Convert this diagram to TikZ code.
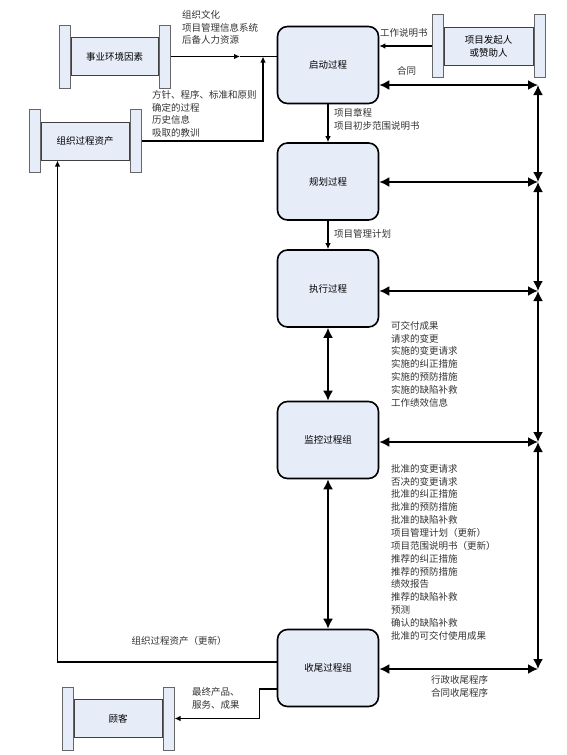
\documentclass[tikz,border=0pt]{standalone}
\usepackage{fontspec}
\setmainfont{Noto Sans CJK SC}
\usepackage{xcolor}
\usetikzlibrary{arrows.meta,calc}
\definecolor{boxfill}{HTML}{E6ECF8}
\tikzset{
	process/.style={draw, line width=1.6pt, rounded corners=10pt, fill=boxfill,
			minimum width=101pt, minimum height=77pt, font=\fontsize{9.5}{12}\selectfont},
	scrollmid/.style={draw=black!75, line width=1pt, fill=boxfill, minimum height=38pt,
			font=\fontsize{9.5}{13}\selectfont, align=center},
	scrollbar/.style={draw=black!60, line width=1pt, fill=boxfill, minimum width=11pt,
			minimum height=63pt, inner sep=0pt},
	note/.style={inner sep=0pt, align=left, anchor=north west, text=black!80,
			font=\fontsize{9.5}{12.85}\selectfont},
	flow/.style={line width=1.4pt, -{Latex[length=6pt,width=5.5pt]}},
	link/.style={line width=1.8pt, {Latex[length=10pt,width=10pt]}-{Latex[length=10pt,width=10pt]}}
}
\newcommand{\scrollbox}[4]{%
	\node[scrollmid, minimum width=#3] (#1) at (#2) {#4};
	\node[scrollbar, anchor=east] (#1-l) at (#1.west) {};
	\node[scrollbar, anchor=west] (#1-r) at (#1.east) {};
}

\begin{document}
\begin{tikzpicture}[x=1pt,y=-1pt]
	\useasboundingbox (0,0) rectangle (567,755);
	\node[process] (init) at (328,65) {启动过程};
	\node[process] (plan) at (328,181.5) {规划过程};
	\node[process] (exec) at (328,288.5) {执行过程};
	\node[process] (monit) at (328,440) {监控过程组};
	\node[process] (close) at (328,668) {收尾过程组};
	\scrollbox{env}{114.5,56.5}{87pt}{事业环境因素}
	\scrollbox{opa}{85,141}{88pt}{组织过程资产}
	\scrollbox{spon}{488.5,46}{89pt}{项目发起人\\或赞助人}
	\scrollbox{cust}{118,718.5}{88pt}{顾客}
	\coordinate (r1) at (538,85);
	\coordinate (r2) at (538,182);
	\coordinate (r3) at (538,291);
	\coordinate (r4) at (538,442);
	\coordinate (r5) at (538,669);
	\coordinate (envhead) at (240,56.5);
	\coordinate (join) at (263,56.5);
	\draw[flow] (env-r) -- (envhead);
	\draw[line width=1.4pt] (envhead) -- (init.west |- join);
	\draw[flow] (opa-r) -| (join);
	\draw[flow] (spon-l) -- (init.east |- spon-l);
	\draw[flow] (init) -- (plan);
	\draw[flow] (plan) -- (exec);
	\draw[link] (exec) -- (monit);
	\draw[link] (monit) -- (close);
	\foreach \p/\r in {init/r1, plan/r2, exec/r3, monit/r4, close/r5}
		\draw[link] (\p.east |- \r) -- (\r);
	\foreach \a/\b in {r1/r2, r2/r3, r3/r4, r4/r5}
		\draw[link] (\a) -- (\b);
	\draw[flow] ($(close.west)+(0,-6)$) -| ($(opa.south west)+(17,0)$);
	\draw[flow] ($(close.west)+(0,21)$) -- ++(-17,0) |- (cust-r);
	\node[note] (ctx) at (182,10) {组织文化\\项目管理信息系统\\后备人力资源};
	\node[note] (assets) at (152,90) {方针、程序、标准和原则\\确定的过程\\历史信息\\吸取的教训};
	\node[note] (sow) at (380,28) {工作说明书};
	\node[note] (contract) at (397,66) {合同};
	\node[note] (charter) at (334,108) {项目章程\\项目初步范围说明书};
	\node[note] (pmp) at (334,229) {项目管理计划};
	\node[note] (execout) at (391,321) {可交付成果\\请求的变更\\实施的变更请求\\实施的纠正措施\\实施的预防措施\\实施的缺陷补救\\工作绩效信息};
	\node[note] (monout) at (391,464) {批准的变更请求\\否决的变更请求\\批准的纠正措施\\批准的预防措施\\批准的缺陷补救\\项目管理计划（更新）\\项目范围说明书（更新）\\推荐的纠正措施\\推荐的预防措施\\绩效报告\\推荐的缺陷补救\\预测\\确认的缺陷补救\\批准的可交付使用成果};
	\node[note, anchor=north] (opaupd) at (179,636) {组织过程资产（更新）};
	\node[note] (product) at (192,687) {最终产品、\\服务、成果};
	\node[note] (closeproc) at (431,675) {行政收尾程序\\合同收尾程序};
\end{tikzpicture}
\end{document}
